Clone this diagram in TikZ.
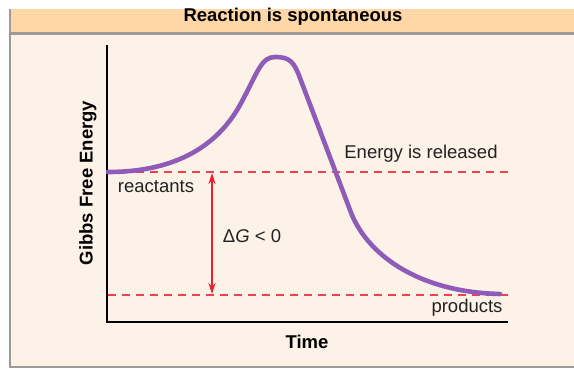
\documentclass[tikz,border=0pt]{standalone}
\usepackage{fontspec}
\setmainfont{Liberation Sans}
\usetikzlibrary{arrows.meta}
\definecolor{hdr}{HTML}{FFD6A6}
\definecolor{bodybg}{HTML}{FDF2E7}
\definecolor{frm}{HTML}{9E9A98}
\definecolor{curvec}{HTML}{8E5CB8}
\definecolor{dashc}{HTML}{F0404E}
\definecolor{arrc}{HTML}{E8202E}
\definecolor{txt}{HTML}{222222}
\tikzset{
  lbl/.style={font=\fontsize{18.5}{22}\selectfont, text=txt, inner sep=0pt},
  blbl/.style={font=\fontsize{18.5}{22}\selectfont\bfseries, text=black, inner sep=0pt},
  level/.style={draw=dashc, line width=2.2pt, dash pattern=on 8pt off 6pt},
  axis/.style={draw=black, line width=2.2pt},
  energy/.style={draw=curvec, line width=4.6pt, line cap=round, line join=round},
  delta/.style={draw=arrc, line width=1.8pt, {Stealth[length=11pt,width=7pt]}-{Stealth[length=11pt,width=7pt]}}
}
\begin{document}
\begin{tikzpicture}[x=1pt,y=-1pt]
\useasboundingbox (0,0) rectangle (574,372);
\fill[white] (0,0) rectangle (574,372);
% frame
\fill[bodybg] (10,34) rectangle (590,367);
\fill[hdr] (10,9) rectangle (590,33);
\draw[frm, line width=2.2pt] (590,33.5) -- (10,33.5);
\draw[frm, line width=2pt] (10,9) -- (10,367) -- (590,367);
\node[blbl] (title) at (293,17) {Reaction is spontaneous};
% axes
\coordinate (ytop) at (107,45);
\coordinate (orig) at (107,322);
\coordinate (xend) at (508,322);
\draw[axis] (ytop) -- (orig) -- (xend);
% levels
\coordinate (rl) at (108,172);
\coordinate (rr) at (508,172);
\coordinate (pl) at (108,295);
\coordinate (pr) at (508,295);
\draw[level] (rl) -- (rr);
\draw[level] (pl) -- (pr);
% curve
\draw[energy] (108,172) .. controls (170,172) and (215,150) .. (240,105)
  .. controls (258,72) and (261,57) .. (275,57)
  .. controls (290,57) and (294,62) .. (300,78)
  -- (350,210)
  .. controls (365,252) and (415,292) .. (500,294);
% delta G arrow
\coordinate (at) at (212,173);
\coordinate (ab) at (212,294);
\draw[delta] (at) -- (ab);
% labels
\node[lbl] (dg) at (252,236) {Δ\textit{G} < 0};
\node[lbl] (react) at (156,187) {reactants};
\node[lbl] (rel) at (421,154) {Energy is released};
\node[lbl] (prod) at (467,308) {products};
\node[blbl] (time) at (307,342) {Time};
\node[blbl, rotate=90] (gfe) at (88,183) {Gibbs Free Energy};
\end{tikzpicture}
\end{document}
